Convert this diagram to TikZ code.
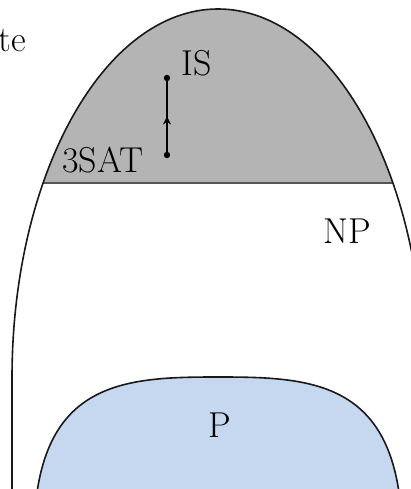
\documentclass[tikz,border=0pt]{standalone}
\usepackage{fontspec}
\usetikzlibrary{decorations.markings,arrows.meta}
\definecolor{npgray}{RGB}{180,180,180}
\definecolor{pblue}{RGB}{197,216,240}
\definecolor{linegray}{RGB}{85,85,85}
\tikzset{
  outline/.style={draw=black!90, line width=1.6pt},
  lbl/.style={inner sep=0pt, font=\fontsize{36}{42}\selectfont},
  redline/.style={line width=2.4pt, postaction={decorate},
    decoration={markings, mark=at position 0.5 with {\arrow{Stealth[length=8pt,width=8pt]}}}},
  enddot/.style={fill=black, radius=3.2pt}
}
\begin{document}
\begin{tikzpicture}[x=1pt,y=1pt]
\useasboundingbox (0,0) rectangle (411,489);
\clip (0,0) rectangle (411,489);
% gray NP-complete cap
\begin{scope}
  \clip (0,306) rectangle (411,489);
  \fill[npgray] (12,111) arc[start angle=180,end angle=0,x radius=206,y radius=369] -- cycle;
\end{scope}
\begin{scope}
  \clip (12,111) arc[start angle=180,end angle=0,x radius=206,y radius=369] -- cycle;
  \coordinate (hl) at (0,306);
  \coordinate (hr) at (411,306);
  \draw[linegray, line width=2.2pt] (hl) -- (hr);
\end{scope}
% NP outline
\draw[outline] (12,-20) -- (12,111) arc[start angle=180,end angle=0,x radius=206,y radius=369] -- (424,-20);
% P region
\draw[outline, fill=pblue] (36,-11) .. controls (50,109) and (130,112) .. (218,112)
  .. controls (306,112) and (386,109) .. (400,-11);
% reduction 3SAT -> IS
\coordinate (top) at (167,411);
\coordinate (bot) at (167,334);
\draw[redline] (bot) -- (top);
\fill[enddot] (top) circle;
\fill[enddot] (bot) circle;
% labels
\node[lbl] (is) at (197,425.5) {IS};
\node[lbl] (sat) at (103,329) {3SAT};
\node[lbl] (np) at (347,257.5) {NP};
\node[lbl] (p) at (219.5,64) {P};
\node[lbl, anchor=base east] (npc) at (26,437) {te};
\end{tikzpicture}
\end{document}
